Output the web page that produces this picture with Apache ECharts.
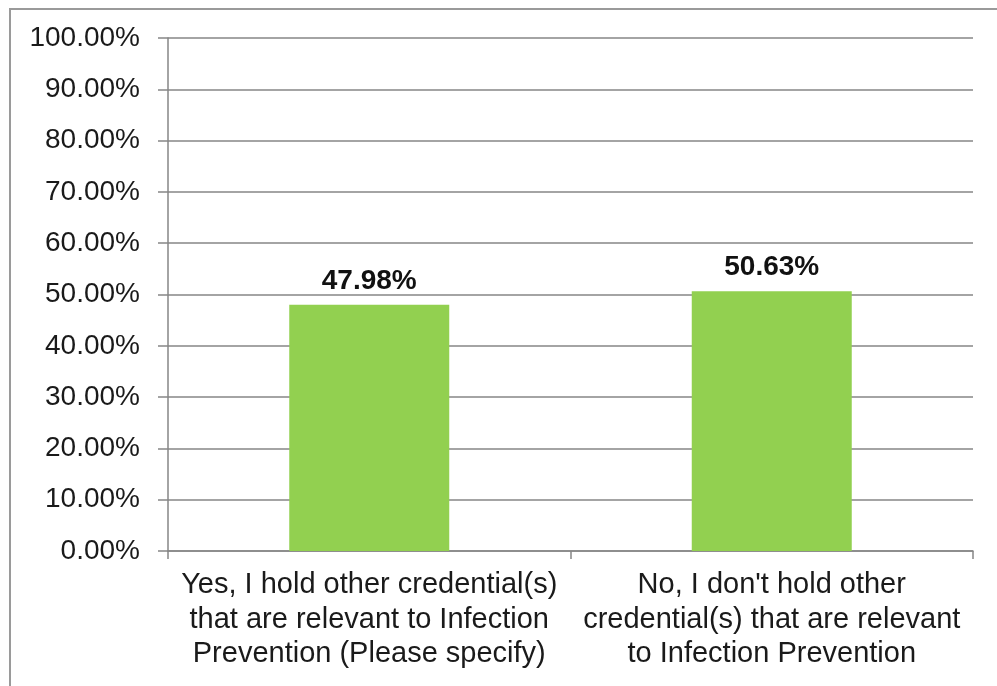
<!DOCTYPE html>
<html>
<head>
<meta charset="utf-8">
<script src="https://cdn.jsdelivr.net/npm/echarts@6/dist/echarts.min.js"></script>
<style>
html,body{margin:0;padding:0;background:#fff;}
#c{width:997px;height:686px;}
</style>
</head>
<body>
<div id="c"></div>
<script>
var categories = [
  "Yes, I hold other credential(s)\nthat are relevant to Infection\nPrevention (Please specify)",
  "No, I don't hold other\ncredential(s) that are relevant\nto Infection Prevention"
];
var values = [47.98, 50.63];
var yTicks = { min: 0, max: 100, interval: 10 };

var chart = echarts.init(document.getElementById('c'));
chart.setOption({
  animation: false,
  backgroundColor: '#fff',
  graphic: [{
    type: 'rect',
    shape: { x: 10, y: 9, width: 1000, height: 700 },
    style: { fill: 'none', stroke: '#9a9a9a', lineWidth: 2 },
    silent: true
  }],
  grid: { left: 168, right: 24, top: 38, bottom: 135, containLabel: false },
  xAxis: {
    type: 'category',
    data: categories,
    axisLine: { lineStyle: { color: '#868686', width: 1.5 } },
    axisTick: { show: true, length: 8, alignWithLabel: false, lineStyle: { color: '#868686', width: 1.5 } },
    axisLabel: {
      interval: 0,
      margin: 17,
      fontFamily: 'Liberation Sans, Arial, sans-serif',
      fontSize: 29,
      lineHeight: 34.5,
      color: '#1a1a1a'
    }
  },
  yAxis: {
    type: 'value',
    min: yTicks.min,
    max: yTicks.max,
    interval: yTicks.interval,
    axisLine: { show: true, lineStyle: { color: '#868686', width: 1.5 } },
    axisTick: { show: true, length: 10, lineStyle: { color: '#868686', width: 1.5 } },
    splitLine: { lineStyle: { color: '#868686', width: 1.5 } },
    axisLabel: {
      margin: 28,
      fontFamily: 'Liberation Sans, Arial, sans-serif',
      fontSize: 28,
      color: '#1a1a1a',
      formatter: function (v) { return v.toFixed(2) + '%'; }
    }
  },
  series: [{
    type: 'bar',
    data: values,
    barWidth: 160,
    itemStyle: { color: '#92D050' },
    label: {
      show: true,
      position: 'top',
      distance: 10,
      fontFamily: 'Liberation Sans, Arial, sans-serif',
      fontSize: 28,
      fontWeight: 'bold',
      color: '#111',
      formatter: function (p) { return p.value.toFixed(2) + '%'; }
    }
  }]
});
</script>
</body>
</html>
